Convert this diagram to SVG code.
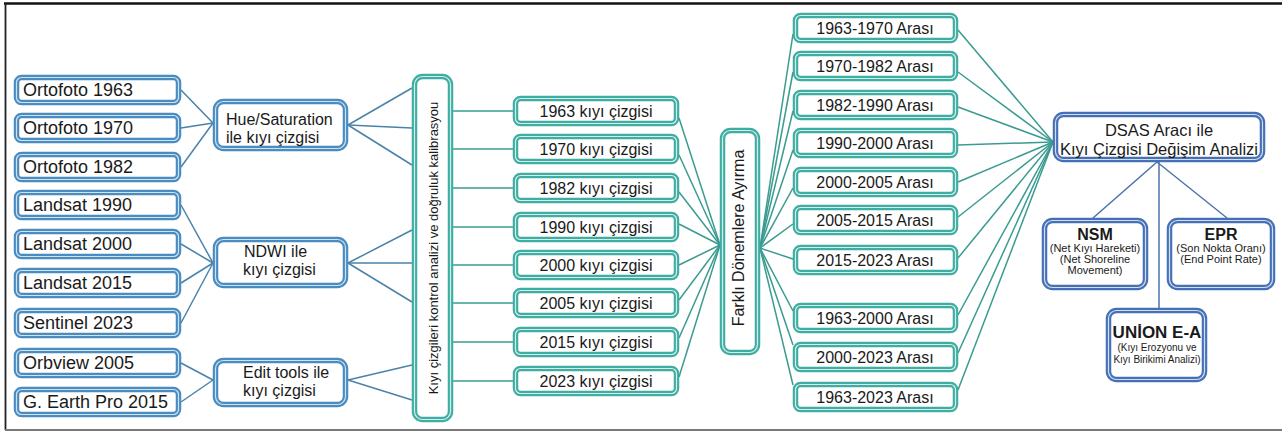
<svg xmlns="http://www.w3.org/2000/svg" width="1282" height="432" viewBox="0 0 1282 432">
<style>
text{font-family:"Liberation Sans",Arial,sans-serif;fill:#1a1a1a}
.bb{fill:#fff;stroke:#4a8bc0;stroke-width:5.5}
.bi{fill:none;stroke:#cfe4f3;stroke-width:1.2}
.tb{fill:#fff;stroke:#40ada2;stroke-width:5.5}
.ti{fill:none;stroke:#d2eeea;stroke-width:1.2}
.db{fill:#fff;stroke:#4670b6;stroke-width:5.5}
.di{fill:none;stroke:#d3def0;stroke-width:1.2}
.lb{stroke:#4b82aa;stroke-width:1.5;fill:none}
.lt{stroke:#3a9b91;stroke-width:1.5;fill:none}
.ld{stroke:#4a72ad;stroke-width:1.5;fill:none}
.t18{font-size:18px}
.t16{font-size:16px}
.c{text-anchor:middle}
.s{font-size:11px;text-anchor:middle}
.s10{font-size:10px;text-anchor:middle}
.bold{font-weight:bold;text-anchor:middle}
</style>
<rect width="1282" height="432" fill="#fff"/>
<g id="frame">
<line x1="4" y1="3.5" x2="1282" y2="3.5" stroke="#111" stroke-width="2.5"/>
<line x1="5.5" y1="3" x2="5.5" y2="430" stroke="#222" stroke-width="1.8"/>
<line x1="5" y1="430" x2="1282" y2="430" stroke="#7a7a7a" stroke-width="2"/>
</g>
<g id="connectors">
<g class="lb">
<line x1="181" y1="90" x2="213" y2="123"/>
<line x1="181" y1="128" x2="213" y2="123"/>
<line x1="181" y1="167" x2="213" y2="123"/>
<line x1="181" y1="205" x2="213" y2="263"/>
<line x1="181" y1="244" x2="213" y2="263"/>
<line x1="181" y1="283" x2="213" y2="263"/>
<line x1="181" y1="323" x2="213" y2="263"/>
<line x1="181" y1="363" x2="213" y2="380"/>
<line x1="181" y1="402" x2="213" y2="380"/>
<line x1="348" y1="125" x2="412" y2="88"/>
<line x1="348" y1="125" x2="412" y2="128"/>
<line x1="348" y1="125" x2="412" y2="165"/>
<line x1="348" y1="263" x2="412" y2="230"/>
<line x1="348" y1="263" x2="412" y2="263"/>
<line x1="348" y1="263" x2="412" y2="302"/>
<line x1="348" y1="380" x2="412" y2="365"/>
<line x1="348" y1="380" x2="412" y2="400"/>
</g>
<g class="lt">
<line x1="453" y1="111" x2="513" y2="111"/>
<line x1="453" y1="149" x2="513" y2="149"/>
<line x1="453" y1="188" x2="513" y2="188"/>
<line x1="453" y1="227" x2="513" y2="227"/>
<line x1="453" y1="265" x2="513" y2="265"/>
<line x1="453" y1="303" x2="513" y2="303"/>
<line x1="453" y1="342" x2="513" y2="342"/>
<line x1="453" y1="381" x2="513" y2="381"/>
<line x1="679" y1="118" x2="720" y2="245"/>
<line x1="679" y1="155" x2="720" y2="245"/>
<line x1="679" y1="192" x2="720" y2="245"/>
<line x1="679" y1="224" x2="720" y2="245"/>
<line x1="679" y1="265" x2="720" y2="245"/>
<line x1="679" y1="300" x2="720" y2="245"/>
<line x1="679" y1="338" x2="720" y2="245"/>
<line x1="679" y1="377" x2="720" y2="245"/>
<line x1="760" y1="248" x2="793" y2="34"/>
<line x1="760" y1="248" x2="793" y2="72"/>
<line x1="760" y1="248" x2="793" y2="111"/>
<line x1="760" y1="248" x2="793" y2="150"/>
<line x1="760" y1="248" x2="793" y2="188"/>
<line x1="760" y1="248" x2="793" y2="224"/>
<line x1="760" y1="248" x2="793" y2="259"/>
<line x1="760" y1="248" x2="793" y2="311"/>
<line x1="760" y1="248" x2="793" y2="345"/>
<line x1="760" y1="248" x2="793" y2="385"/>
<line x1="958" y1="30" x2="1053" y2="142"/>
<line x1="958" y1="72" x2="1053" y2="142"/>
<line x1="958" y1="107" x2="1053" y2="142"/>
<line x1="958" y1="145" x2="1053" y2="142"/>
<line x1="958" y1="182" x2="1053" y2="142"/>
<line x1="958" y1="217" x2="1053" y2="142"/>
<line x1="958" y1="258" x2="1053" y2="142"/>
<line x1="958" y1="315" x2="1053" y2="142"/>
<line x1="958" y1="353" x2="1053" y2="142"/>
<line x1="958" y1="390" x2="1053" y2="142"/>
</g>
<g class="ld">
<line x1="1157" y1="162" x2="1093" y2="218"/>
<line x1="1157" y1="162" x2="1227" y2="218"/>
<line x1="1159" y1="162" x2="1159" y2="308"/>
</g>
</g>
<g id="ortofoto1963"><rect class="bb" x="16.5" y="77.5" width="162" height="25" rx="5"/><rect class="bi" x="16.5" y="77.5" width="162" height="25" rx="5"/><text class="t18" x="23" y="96">Ortofoto 1963</text></g>
<g id="ortofoto1970"><rect class="bb" x="16.5" y="115.5" width="162" height="25" rx="5"/><rect class="bi" x="16.5" y="115.5" width="162" height="25" rx="5"/><text class="t18" x="23" y="134">Ortofoto 1970</text></g>
<g id="ortofoto1982"><rect class="bb" x="16.5" y="154.5" width="162" height="25" rx="5"/><rect class="bi" x="16.5" y="154.5" width="162" height="25" rx="5"/><text class="t18" x="23" y="173">Ortofoto 1982</text></g>
<g id="landsat1990"><rect class="bb" x="16.5" y="192.5" width="162" height="25" rx="5"/><rect class="bi" x="16.5" y="192.5" width="162" height="25" rx="5"/><text class="t18" x="23" y="211">Landsat 1990</text></g>
<g id="landsat2000"><rect class="bb" x="16.5" y="231.5" width="162" height="25" rx="5"/><rect class="bi" x="16.5" y="231.5" width="162" height="25" rx="5"/><text class="t18" x="23" y="250">Landsat 2000</text></g>
<g id="landsat2015"><rect class="bb" x="16.5" y="270.5" width="162" height="25" rx="5"/><rect class="bi" x="16.5" y="270.5" width="162" height="25" rx="5"/><text class="t18" x="23" y="289">Landsat 2015</text></g>
<g id="sentinel2023"><rect class="bb" x="16.5" y="310.5" width="162" height="25" rx="5"/><rect class="bi" x="16.5" y="310.5" width="162" height="25" rx="5"/><text class="t18" x="23" y="329">Sentinel 2023</text></g>
<g id="orbview2005"><rect class="bb" x="16.5" y="350.5" width="162" height="25" rx="5"/><rect class="bi" x="16.5" y="350.5" width="162" height="25" rx="5"/><text class="t18" x="23" y="369">Orbview 2005</text></g>
<g id="gearth2015"><rect class="bb" x="16.5" y="389.5" width="162" height="25" rx="5"/><rect class="bi" x="16.5" y="389.5" width="162" height="25" rx="5"/><text class="t18" x="23" y="408">G. Earth Pro 2015</text></g>
<g id="hue"><rect class="bb" x="215.5" y="101.5" width="130" height="47" rx="8"/><rect class="bi" x="215.5" y="101.5" width="130" height="47" rx="8"/><text class="t16" x="226" y="125">Hue/Saturation</text><text class="t16" x="226" y="143">ile kıyı çizgisi</text></g>
<g id="ndwi"><rect class="bb" x="215.5" y="239.5" width="130" height="46" rx="8"/><rect class="bi" x="215.5" y="239.5" width="130" height="46" rx="8"/><text class="t16" x="244" y="257">NDWI ile</text><text class="t16" x="243" y="275">kıyı çizgisi</text></g>
<g id="edit"><rect class="bb" x="215.5" y="360.5" width="130" height="44" rx="8"/><rect class="bi" x="215.5" y="360.5" width="130" height="44" rx="8"/><text class="t16" x="243" y="378">Edit tools ile</text><text class="t16" x="243" y="396">kıyı çizgisi</text></g>
<g id="kalibrasyon"><rect class="tb" x="414.5" y="76.5" width="36" height="343" rx="8"/><rect class="ti" x="414.5" y="76.5" width="36" height="343" rx="8"/><text font-size="13" class="c" transform="translate(438,248) rotate(-90)">Kıyı çizgileri kontrol analizi ve doğruluk kalibrasyou</text></g>
<g id="k1963"><rect class="tb" x="515.5" y="98.5" width="161" height="25" rx="5"/><rect class="ti" x="515.5" y="98.5" width="161" height="25" rx="5"/><text class="t16 c" x="596" y="117">1963 kıyı çizgisi</text></g>
<g id="k1970"><rect class="tb" x="515.5" y="136.5" width="161" height="25" rx="5"/><rect class="ti" x="515.5" y="136.5" width="161" height="25" rx="5"/><text class="t16 c" x="596" y="155">1970 kıyı çizgisi</text></g>
<g id="k1982"><rect class="tb" x="515.5" y="175.5" width="161" height="25" rx="5"/><rect class="ti" x="515.5" y="175.5" width="161" height="25" rx="5"/><text class="t16 c" x="596" y="194">1982 kıyı çizgisi</text></g>
<g id="k1990"><rect class="tb" x="515.5" y="214.5" width="161" height="25" rx="5"/><rect class="ti" x="515.5" y="214.5" width="161" height="25" rx="5"/><text class="t16 c" x="596" y="233">1990 kıyı çizgisi</text></g>
<g id="k2000"><rect class="tb" x="515.5" y="252.5" width="161" height="25" rx="5"/><rect class="ti" x="515.5" y="252.5" width="161" height="25" rx="5"/><text class="t16 c" x="596" y="271">2000 kıyı çizgisi</text></g>
<g id="k2005"><rect class="tb" x="515.5" y="290.5" width="161" height="25" rx="5"/><rect class="ti" x="515.5" y="290.5" width="161" height="25" rx="5"/><text class="t16 c" x="596" y="309">2005 kıyı çizgisi</text></g>
<g id="k2015"><rect class="tb" x="515.5" y="329.5" width="161" height="25" rx="5"/><rect class="ti" x="515.5" y="329.5" width="161" height="25" rx="5"/><text class="t16 c" x="596" y="348">2015 kıyı çizgisi</text></g>
<g id="k2023"><rect class="tb" x="515.5" y="368.5" width="161" height="25" rx="5"/><rect class="ti" x="515.5" y="368.5" width="161" height="25" rx="5"/><text class="t16 c" x="596" y="387">2023 kıyı çizgisi</text></g>
<g id="farkli"><rect class="tb" x="722.5" y="130.5" width="35" height="222" rx="8"/><rect class="ti" x="722.5" y="130.5" width="35" height="222" rx="8"/><text class="t16 c" transform="translate(744,238) rotate(-90)">Farklı Dönemlere Ayırma</text></g>
<g id="p1963-1970"><rect class="tb" x="795.5" y="15.5" width="160" height="25" rx="5"/><rect class="ti" x="795.5" y="15.5" width="160" height="25" rx="5"/><text class="t16 c" x="875" y="34">1963-1970 Arası</text></g>
<g id="p1970-1982"><rect class="tb" x="795.5" y="53.5" width="160" height="25" rx="5"/><rect class="ti" x="795.5" y="53.5" width="160" height="25" rx="5"/><text class="t16 c" x="875" y="72">1970-1982 Arası</text></g>
<g id="p1982-1990"><rect class="tb" x="795.5" y="92.5" width="160" height="25" rx="5"/><rect class="ti" x="795.5" y="92.5" width="160" height="25" rx="5"/><text class="t16 c" x="875" y="111">1982-1990 Arası</text></g>
<g id="p1990-2000"><rect class="tb" x="795.5" y="130.5" width="160" height="25" rx="5"/><rect class="ti" x="795.5" y="130.5" width="160" height="25" rx="5"/><text class="t16 c" x="875" y="149">1990-2000 Arası</text></g>
<g id="p2000-2005"><rect class="tb" x="795.5" y="169.5" width="160" height="25" rx="5"/><rect class="ti" x="795.5" y="169.5" width="160" height="25" rx="5"/><text class="t16 c" x="875" y="188">2000-2005 Arası</text></g>
<g id="p2005-2015"><rect class="tb" x="795.5" y="207.5" width="160" height="25" rx="5"/><rect class="ti" x="795.5" y="207.5" width="160" height="25" rx="5"/><text class="t16 c" x="875" y="226">2005-2015 Arası</text></g>
<g id="p2015-2023"><rect class="tb" x="795.5" y="247.5" width="160" height="25" rx="5"/><rect class="ti" x="795.5" y="247.5" width="160" height="25" rx="5"/><text class="t16 c" x="875" y="266">2015-2023 Arası</text></g>
<g id="p1963-2000"><rect class="tb" x="795.5" y="305.5" width="160" height="25" rx="5"/><rect class="ti" x="795.5" y="305.5" width="160" height="25" rx="5"/><text class="t16 c" x="875" y="324">1963-2000 Arası</text></g>
<g id="p2000-2023"><rect class="tb" x="795.5" y="344.5" width="160" height="25" rx="5"/><rect class="ti" x="795.5" y="344.5" width="160" height="25" rx="5"/><text class="t16 c" x="875" y="363">2000-2023 Arası</text></g>
<g id="p1963-2023"><rect class="tb" x="795.5" y="384.5" width="160" height="25" rx="5"/><rect class="ti" x="795.5" y="384.5" width="160" height="25" rx="5"/><text class="t16 c" x="875" y="403">1963-2023 Arası</text></g>
<g id="dsas"><rect class="db" x="1055.5" y="114.5" width="207" height="45" rx="8"/><rect class="di" x="1055.5" y="114.5" width="207" height="45" rx="8"/><text class="c" font-size="16.5" x="1159" y="136">DSAS Aracı ile</text><text class="c" font-size="16.5" x="1159" y="155">Kıyı Çizgisi Değişim Analizi</text></g>
<g id="nsm"><rect class="db" x="1044.5" y="220.5" width="101" height="67" rx="8"/><rect class="di" x="1044.5" y="220.5" width="101" height="67" rx="8"/><text class="bold" font-size="16" x="1095" y="240">NSM</text><text class="s" x="1095" y="252">(Net Kıyı Hareketi)</text><text class="s" x="1095" y="263">(Net Shoreline</text><text class="s" x="1095" y="274">Movement)</text></g>
<g id="epr"><rect class="db" x="1169.5" y="220.5" width="103" height="67" rx="8"/><rect class="di" x="1169.5" y="220.5" width="103" height="67" rx="8"/><text class="bold" font-size="16" x="1221" y="240">EPR</text><text class="s" x="1221" y="252">(Son Nokta Oranı)</text><text class="s" x="1221" y="263">(End Point Rate)</text></g>
<g id="union"><rect class="db" x="1108.5" y="310.5" width="96" height="69" rx="8"/><rect class="di" x="1108.5" y="310.5" width="96" height="69" rx="8"/><text class="bold" font-size="17" x="1157" y="338">UNİON E-A</text><text class="s10" x="1157" y="351">(Kıyı Erozyonu ve</text><text class="s10" x="1157" y="363">Kıyı Birikimi Analizi)</text></g>
</svg>
